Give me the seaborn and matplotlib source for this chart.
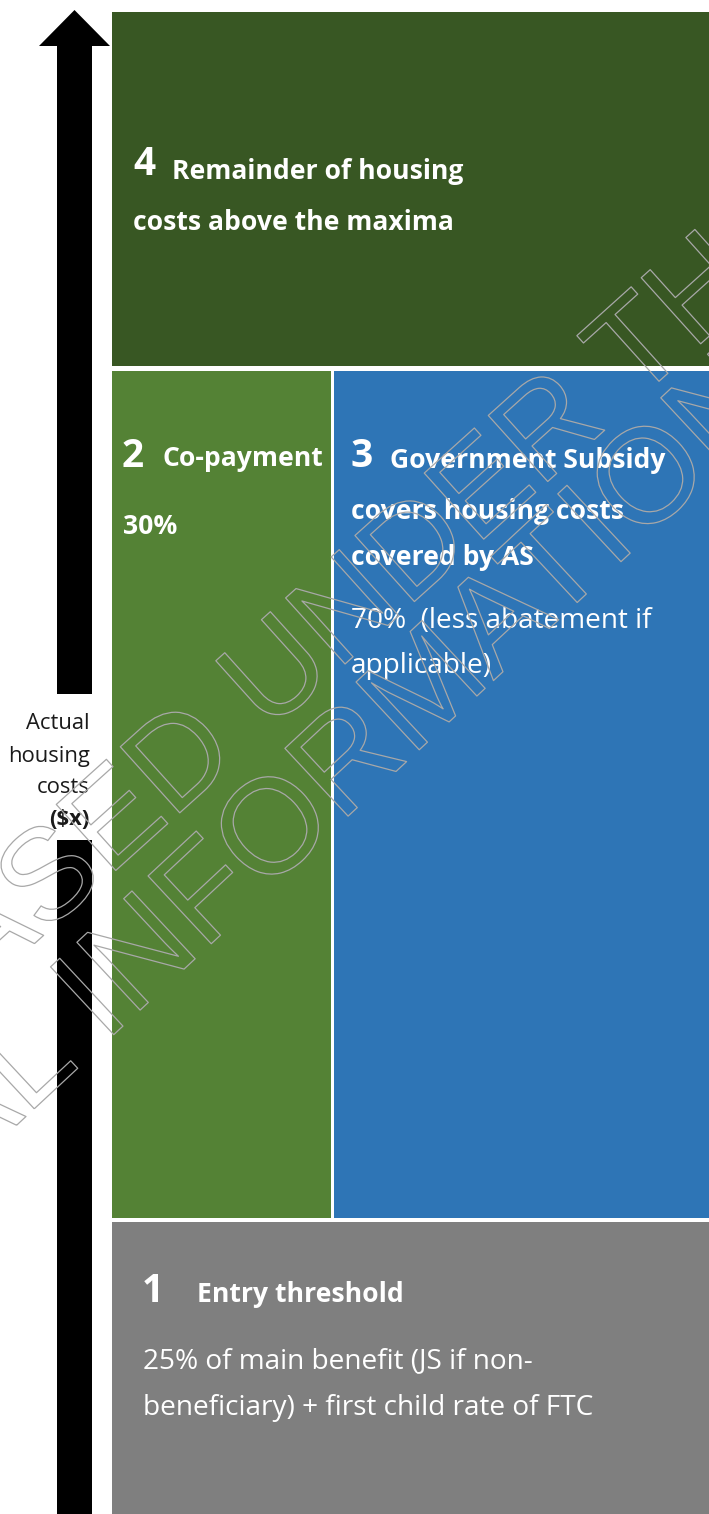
import matplotlib
matplotlib.use("Agg")
import matplotlib.pyplot as plt
import matplotlib.patheffects as pe
import numpy as np
import seaborn as sns
import pandas as pd

# ---- data -------------------------------------------------------------
block_ids = ["1", "2", "3", "4"]
block_titles = ["Entry threshold", "Co-payment", "Government Subsidy", "Remainder of housing"]
# extents of each block on the (pixel-like) diagram scale
block_x0 = [112, 112, 334, 112]
block_x1 = [709, 331, 709, 709]
block_y0 = [1222, 371, 371, 12]
block_y1 = [1514, 1218, 1218, 366]
axis_label = ["Actual", "housing", "costs", "($x)"]
watermark = ["RELEASED UNDER THE", "OFFICIAL INFORMATION ACT"]

palette = {"1": "#7F7F7F", "2": "#548235", "3": "#2E75B6", "4": "#385723"}

df = pd.DataFrame({"id": block_ids, "x0": block_x0, "x1": block_x1,
                   "y0": block_y0, "y1": block_y1})

# ---- style ------------------------------------------------------------
sns.set_theme(style="white")
FAM = ["Open Sans", "DejaVu Sans"]
plt.rcParams["font.family"] = FAM

W, H = 709, 1514
fig = plt.figure(figsize=(W / 100, H / 100), dpi=100)
ax = fig.add_axes([0, 0, 1, 1])
ax.set_xlim(0, W)
ax.set_ylim(H, 0)
ax.axis("off")
renderer = fig.canvas.get_renderer()


def fit(samples, weight):
    """font size (pt) so that sample strings get their target pixel widths"""
    sizes = []
    for s, target in samples:
        t = ax.text(0, 0, s, fontsize=10, fontweight=weight)
        w = t.get_window_extent(renderer).width
        t.remove()
        sizes.append(10 * target / w)
    return float(np.median(sizes))


hd_fs = fit([("Remainder of housing", 290), ("costs above the maxima", 317),
             ("Co-payment", 160), ("Government Subsidy", 275),
             ("covers housing costs", 274), ("covered by AS", 186),
             ("Entry threshold", 201)], "bold")
bd_fs = fit([("70%  (less abatement if", 302), ("applicable)", 141),
             ("25% of main benefit (JS if non-", 414),
             ("beneficiary) + first child rate of FTC", 449)], "normal")
lb_fs = fit([("housing", 82), ("Actual", 62), ("costs", 55)], "normal")
num_fs = 28

# blocks
for _, r in df.iterrows():
    ax.bar(r.x0, r.y1 - r.y0, width=r.x1 - r.x0, bottom=r.y0, align="edge",
           color=palette[r.id], linewidth=0, zorder=1)

# arrow (upper part with head, lower shaft)
ax.arrow(74.5, 694, 0, -684, width=35, head_width=71, head_length=36,
         length_includes_head=True, color="black", linewidth=0, zorder=2)
ax.bar(57, 1514 - 840, width=35, bottom=840, align="edge", color="black",
       linewidth=0, zorder=2)

# axis label
for t, yb in zip(axis_label, [729, 762, 793, 825]):
    ax.text(90, yb, t, ha="right", va="baseline", fontsize=lb_fs,
            color="#1a1a1a", fontweight="bold" if t == "($x)" else "normal", zorder=3)

wc = "white"


def txt(x, y, s, fs, bold=True):
    ax.text(x, y, s, ha="left", va="baseline", fontsize=fs, color=wc,
            fontweight="bold" if bold else "normal", zorder=3)


# block 4
txt(133, 175, block_ids[3], num_fs)
txt(172, 179, block_titles[3], hd_fs)
txt(133, 230, "costs above the maxima", hd_fs)
# block 2
txt(122, 467, block_ids[1], num_fs)
txt(162, 466, block_titles[1], hd_fs)
txt(123, 534, "30%", hd_fs)
# block 3
txt(351, 467, block_ids[2], num_fs)
txt(390, 468, block_titles[2], hd_fs)
txt(351, 519, "covers housing costs", hd_fs)
txt(351, 565, "covered by AS", hd_fs)
txt(351, 628, "70%  (less abatement if", bd_fs, bold=False)
txt(351, 673, "applicable)", bd_fs, bold=False)
# block 1
txt(142, 1302, block_ids[0], num_fs)
txt(197, 1302, block_titles[0], hd_fs)
txt(143, 1368, "25% of main benefit (JS if non-", bd_fs, bold=False)
txt(143, 1415, "beneficiary) + first child rate of FTC", bd_fs, bold=False)

# watermark (outlined text)
for s, (cx, cy), fs, rot in zip(watermark, [(255, 700), (298, 815)], [93, 97], [42, 43]):
    ax.text(cx, cy, s, ha="center", va="center", rotation=rot,
            rotation_mode="anchor", fontsize=fs, family="Liberation Sans",
            color="none", zorder=4, clip_on=True,
            path_effects=[pe.withStroke(linewidth=0.9, foreground="#a8a8a8")])

fig.savefig("out.png", dpi=100, facecolor="white")
